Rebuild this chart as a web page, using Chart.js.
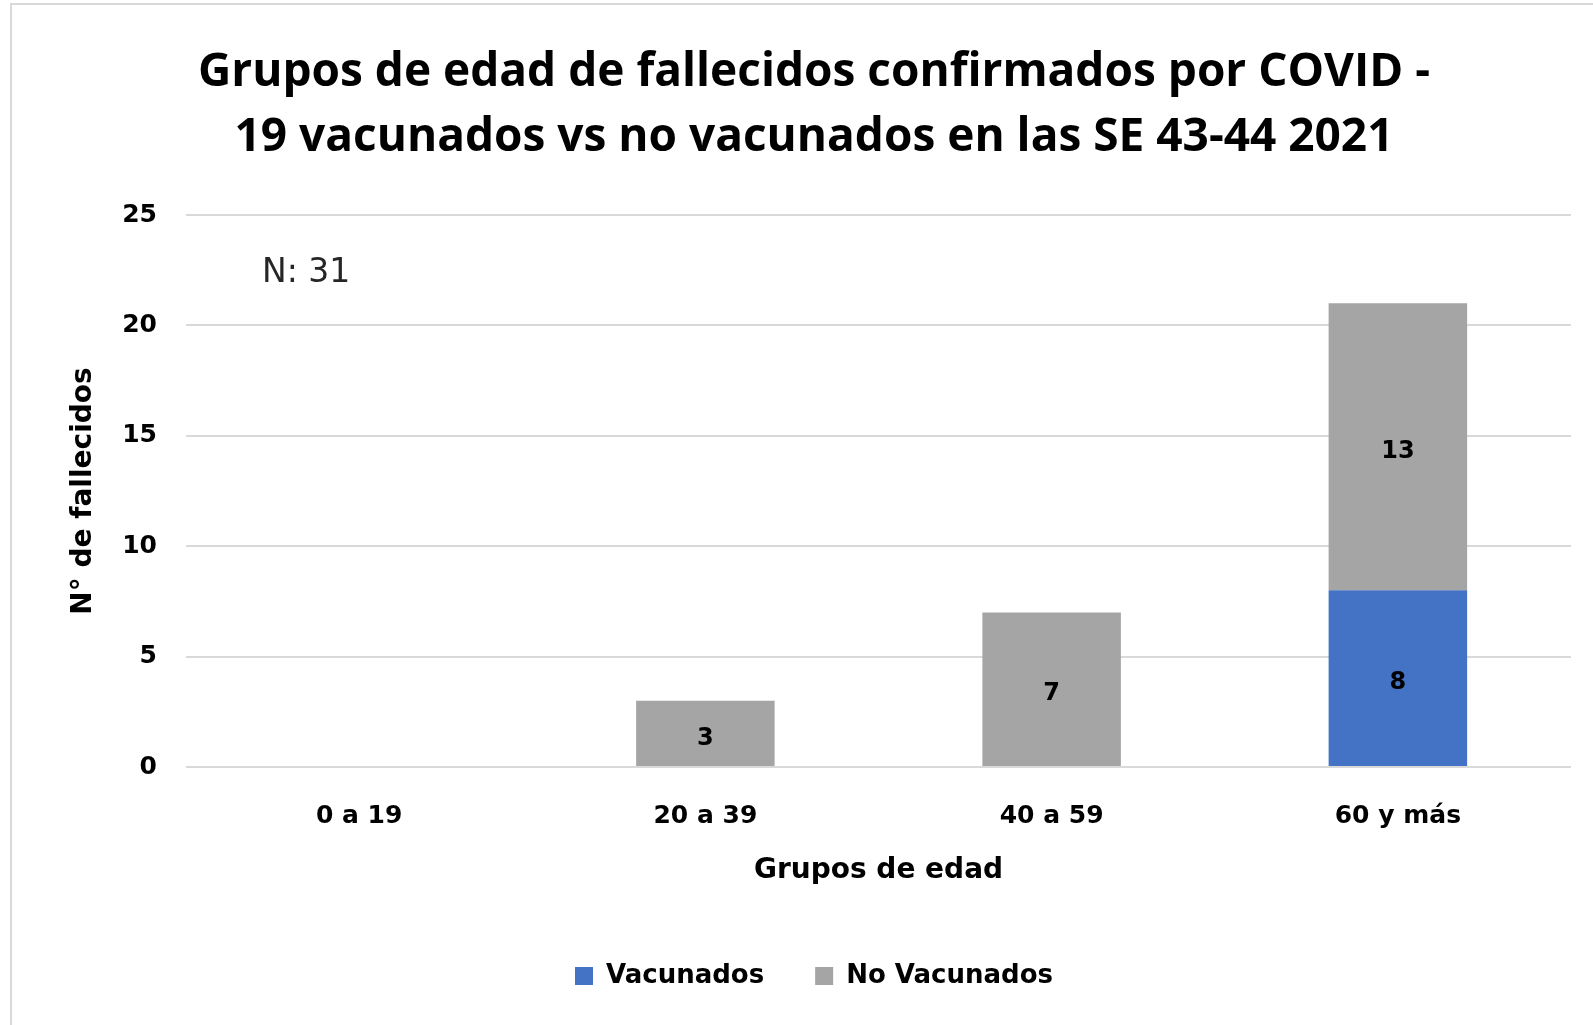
<!DOCTYPE html>
<html>
<head>
<meta charset="utf-8">
<script src="https://cdn.jsdelivr.net/npm/chart.js@4.4.1/dist/chart.umd.min.js"></script>
<style>
    html, body { margin: 0; padding: 0; background: #fff; overflow: hidden; }
    #marco { position: absolute; left: 10px; top: 3px; width: 1700px; height: 1100px; border: 2px solid #d9d9d9; pointer-events: none; }
    #wrap { position: absolute; left: 0; top: 0; width: 1593px; height: 1025px; }
</style>
</head>
<body>
<div id="wrap"><canvas id="chartFallecidos"></canvas></div>
<div id="marco"></div>
<script>
// Datos: fallecidos por grupo de edad, SE 43-44 2021
var gruposEdad = ['0 a 19', '20 a 39', '40 a 59', '60 y más'];
var vacunados = [0, 0, 0, 8];
var noVacunados = [0, 3, 7, 13];
var totalN = 31;

var fuenteBold = 'DejaVu Sans';

// Escribe el valor en el centro de cada segmento (omite ceros)
var etiquetasValor = {
    id: 'etiquetasValor',
    afterDatasetsDraw: function(chart) {
        var ctx = chart.ctx;
        ctx.save();
        ctx.font = 'bold 24px "DejaVu Sans"';
        ctx.fillStyle = '#000';
        ctx.textAlign = 'center';
        ctx.textBaseline = 'middle';
        chart.data.datasets.forEach(function(ds, i) {
            var meta = chart.getDatasetMeta(i);
            meta.data.forEach(function(bar, j) {
                if (!ds.data[j]) return;
                ctx.fillText(ds.data[j], bar.x, (bar.y + bar.base) / 2 + 5);
            });
        });
        ctx.restore();
    }
};

// Texto "N: 31" arriba a la izquierda del area de graficos
var textoN = {
    id: 'textoN',
    afterDraw: function(chart) {
        var ctx = chart.ctx;
        var y = chart.scales.y.getPixelForValue(22.35);
        ctx.save();
        ctx.font = '33px "DejaVu Sans"';
        ctx.fillStyle = '#262626';
        ctx.textAlign = 'left';
        ctx.textBaseline = 'middle';
        ctx.fillText('N: ' + totalN, chart.chartArea.left + 76, y);
        ctx.restore();
    }
};

document.addEventListener("DOMContentLoaded", function() {
    var ctx = document.getElementById('chartFallecidos').getContext('2d');
    var chart = new Chart(ctx, {
        type: 'bar',
        data: {
            labels: gruposEdad,
            datasets: [{
                label: 'Vacunados',
                data: vacunados,
                backgroundColor: '#4472C4',
                barPercentage: 0.5,
                categoryPercentage: 0.8
            }, {
                label: 'No Vacunados',
                data: noVacunados,
                backgroundColor: '#A5A5A5',
                barPercentage: 0.5,
                categoryPercentage: 0.8
            }]
        },
        options: {
            responsive: true,
            maintainAspectRatio: false,
            animation: false,
            layout: {
                padding: { left: 57, right: 22, top: 0, bottom: 26 }
            },
            scales: {
                x: {
                    stacked: true,
                    grid: { display: false },
                    border: { display: false },
                    ticks: {
                        color: '#000',
                        padding: 26,
                        font: { family: fuenteBold, size: 25, weight: 'bold' }
                    },
                    title: {
                        display: true,
                        text: 'Grupos de edad',
                        color: '#000',
                        padding: { top: 4, bottom: 24 },
                        font: { family: fuenteBold, size: 28, weight: 'bold' }
                    },
                    afterFit: function(scale) { scale.height = 145; }
                },
                y: {
                    stacked: true,
                    min: 0,
                    max: 25,
                    grid: { color: '#d9d9d9', lineWidth: 2, drawTicks: false },
                    border: { display: false },
                    ticks: {
                        stepSize: 5,
                        color: '#000',
                        padding: 29,
                        font: { family: fuenteBold, size: 25, weight: 'bold' }
                    },
                    title: {
                        display: true,
                        text: 'N° de fallecidos',
                        color: '#000',
                        padding: { top: 10, bottom: 4 },
                        font: { family: fuenteBold, size: 28, weight: 'bold' }
                    },
                    afterFit: function(scale) { scale.width = 129; }
                }
            },
            plugins: {
                title: {
                    display: true,
                    text: ['Grupos de edad de fallecidos confirmados por COVID -',
                           '19 vacunados vs no vacunados en las SE 43-44 2021'],
                    color: '#000',
                    padding: { top: 40.5, bottom: 44.5 },
                    font: { family: '"Open Sans"', size: 46, weight: 'bold', lineHeight: '65px' }
                },
                legend: {
                    position: 'bottom',
                    labels: {
                        color: '#000',
                        boxWidth: 18,
                        boxHeight: 18,
                        padding: 51,
                        font: { family: fuenteBold, size: 26, weight: 'bold' }
                    }
                },
                tooltip: { enabled: false }
            }
        },
        plugins: [etiquetasValor, textoN]
    });
});
</script>
</body>
</html>
